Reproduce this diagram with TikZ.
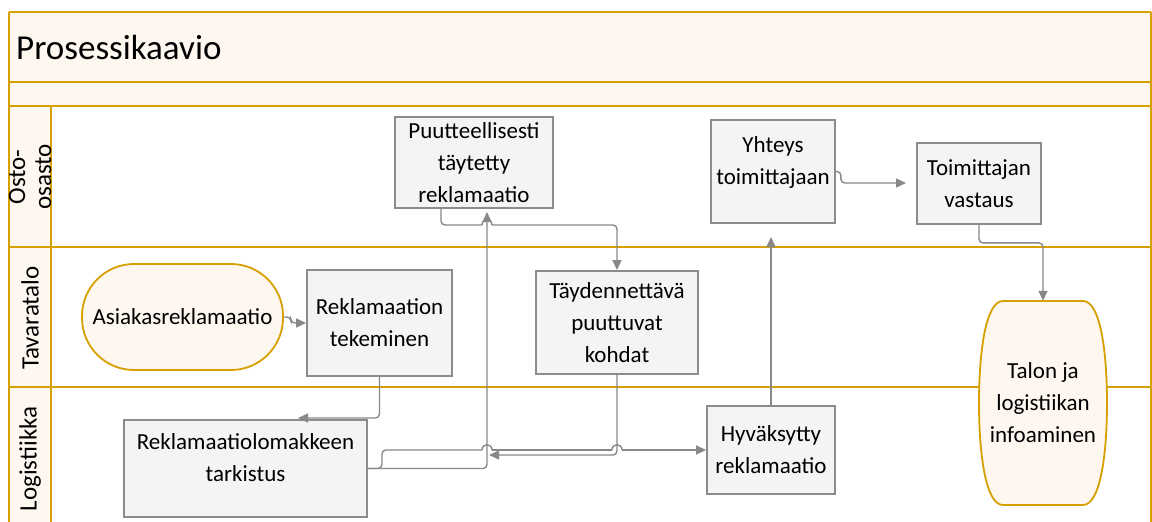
\documentclass[tikz,border=0pt]{standalone}
\usepackage{fontspec}
\setmainfont{Carlito}
\usetikzlibrary{arrows.meta,calc}
\definecolor{gold}{RGB}{214,160,0}
\definecolor{cream}{RGB}{254,247,240}
\definecolor{boxfill}{RGB}{244,244,244}
\definecolor{boxline}{RGB}{140,140,140}
\definecolor{conncol}{RGB}{136,136,136}
\tikzset{
  lane/.style={draw=gold, line width=2.2pt},
  procbox/.style={draw=boxline, fill=boxfill, line width=1.8pt, inner sep=0pt,
    align=center, font=\fontsize{23}{32}\selectfont},
  termbox/.style={draw=gold, fill=cream, line width=1.8pt, inner sep=0pt,
    align=center, font=\fontsize{23}{32}\selectfont},
  textonly/.style={inner sep=0pt, align=center, font=\fontsize{23}{32}\selectfont},
  lanelabel/.style={rotate=90, inner sep=0pt, align=center, font=\fontsize{25}{26}\selectfont},
  conn/.style={draw=conncol, line width=1.4pt, rounded corners=4pt,
    -{Triangle[length=10pt,width=9pt]}},
  connplain/.style={draw=conncol, line width=1.4pt, rounded corners=4pt}
}
\begin{document}
\begin{tikzpicture}[x=1pt,y=-1pt]
\useasboundingbox (0,0) rectangle (1152,522);
\fill[white] (0,0) rectangle (1152,522);
% header bands
\fill[cream] (9,12) rectangle (1151,106);
\fill[cream] (9,106) rectangle (51,522);
\draw[lane] (9,12) -- (1151,12);
\draw[lane] (9,82) -- (1151,82);
\draw[lane] (9,106) -- (1151,106);
\draw[lane] (9,247) -- (1151,247);
\draw[lane] (9,387) -- (1151,387);
\draw[draw=gold, line width=1.8pt] (9,12) -- (9,522);
\draw[draw=gold, line width=1.8pt] (51,106) -- (51,522);
\draw[draw=gold, line width=1.5pt] (1151,12) -- (1151,522);
\node[anchor=west, inner sep=0pt, font=\fontsize{35}{40}\selectfont] (title) at (16,47) {Prosessikaavio};
% lane labels
\node[lanelabel] (l1) at (30,177) {Osto-\\osasto};
\node[lanelabel] (l2) at (30,318) {Tavaratalo};
\node[lanelabel] (l3) at (30,459) {Logistiikka};
% terminator shape for Talon
\draw[draw=gold, fill=cream, line width=1.8pt]
  (1003,301) -- (1083,301)
  .. controls (1100,301) and (1107,350) .. (1107,403)
  .. controls (1107,456) and (1100,505) .. (1083,505)
  -- (1003,505)
  .. controls (986,505) and (979,456) .. (979,403)
  .. controls (979,350) and (986,301) .. (1003,301);
% nodes
\node[procbox, minimum width=158pt, minimum height=91pt] (puut) at (474,162.5) {Puutteellisesti\\täytetty\\reklamaatio};
\node[procbox, minimum width=124pt, minimum height=103pt, text depth=22pt] (yht) at (773,171.5) {Yhteys\\toimittajaan};
\node[procbox, minimum width=124pt, minimum height=81pt] (toim) at (979,183.5) {Toimittajan\\vastaus};
\node[termbox, rounded corners=52pt, minimum width=201pt, minimum height=106pt] (asiak) at (182.5,317) {Asiakasreklamaatio};
\node[procbox, minimum width=145pt, minimum height=106pt] (rek) at (379.5,323) {Reklamaation\\tekeminen};
\node[procbox, minimum width=243pt, minimum height=97pt, text depth=22pt] (tark) at (245.5,468.5) {Reklamaatiolomakkeen\\tarkistus};
\node[procbox, minimum width=162pt, minimum height=103pt] (tayd) at (617,322.5) {Täydennettävä\\puuttuvat\\kohdat};
\node[procbox, minimum width=128pt, minimum height=88pt] (hyv) at (771,450) {Hyväksytty\\reklamaatio};
\node[textonly, minimum width=128pt, minimum height=204pt] (talon) at (1043,403) {Talon ja\\logistiikan\\infoaminen};
% coordinates
\coordinate (c2end) at (298,418);
\coordinate (c3end) at (487,212);
\coordinate (p4s) at (441,208);
\coordinate (h1a) at (482,225);
\coordinate (h1b) at (492,225);
\coordinate (c5end) at (489,455);
\coordinate (c6up) at (382,450);
\coordinate (h2a) at (482,450);
\coordinate (h2b) at (492,450);
\coordinate (h3a) at (612,450);
\coordinate (h3b) at (622,450);
\coordinate (c7end) at (771,237);
\coordinate (c8end) at (906,183);
% connectors
\draw[conn] (asiak.east) -- ++(7,0) |- (rek.west);
\draw[conn] (rek.south) |- (c2end);
\draw[conn] (tark.east) -| (c3end);
\draw[connplain] (p4s) |- (h1a);
\draw[connplain] (h1a) .. controls +(0,-7) and +(0,-7) .. (h1b);
\draw[conn] (h1b) -| (tayd.north);
\draw[conn] (tayd.south) |- (c5end);
\draw[connplain] (tark.east) -| (c6up) -- (h2a);
\draw[connplain] (h2a) .. controls +(0,-7) and +(0,-7) .. (h2b);
\draw[connplain] (h2b) -- (h3a);
\draw[connplain] (h3a) .. controls +(0,-7) and +(0,-7) .. (h3b);
\draw[conn] (h3b) -- (hyv.west);
\draw[conn] (hyv.north) -- (c7end);
\draw[conn] (yht.east) -- ++(5,0) |- (c8end);
\draw[conn] (toim.south) -- ++(0,18) -| (talon.north);
\end{tikzpicture}
\end{document}
